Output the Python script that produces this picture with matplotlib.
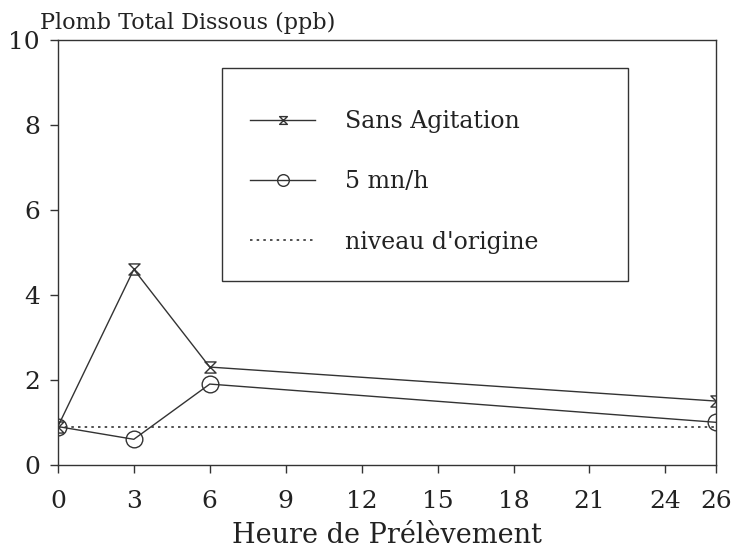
import matplotlib
matplotlib.use("Agg")
import matplotlib.pyplot as plt
from matplotlib.path import Path
from matplotlib.patches import Rectangle

hours = [0, 3, 6, 26]
sans_agitation = [0.9, 4.6, 2.3, 1.5]
agit_5mn = [0.9, 0.6, 1.9, 1.0]
origin_level = [0.9, 0.9]
origin_x = [0, 26]
xticks = [0, 3, 6, 9, 12, 15, 18, 21, 24, 26]
yticks = [0, 2, 4, 6, 8, 10]

plt.rcParams['font.family'] = ['DejaVu Serif']
col = '#333333'
tcol = '#222222'

hourglass = Path([(-1, 1), (1, 1), (-1, -1), (1, -1), (-1, 1)],
                 [Path.MOVETO, Path.LINETO, Path.LINETO, Path.LINETO, Path.CLOSEPOLY])

fig = plt.figure(figsize=(7.42, 5.54), dpi=100)
ax = fig.add_axes([0.078, 0.161, 0.887, 0.767])

l1, = ax.plot(hours, sans_agitation, color=col, lw=1.0, marker=hourglass,
              markersize=8, markerfacecolor='none', markeredgecolor=col, markeredgewidth=1.0)
l2, = ax.plot(hours, agit_5mn, color=col, lw=1.0, marker='o',
              markersize=12, markerfacecolor='none', markeredgecolor=col, markeredgewidth=1.0)
l3, = ax.plot(origin_x, origin_level, color=col, lw=1.2, linestyle=(0, (1.5, 2.5)))

ax.set_xlim(0, 26)
ax.set_ylim(0, 10)
ax.set_xticks(xticks)
ax.set_yticks(yticks)
ax.tick_params(direction='out', length=6, width=1, colors=col, labelsize=18, labelcolor=tcol,
               top=False, right=False)
ax.tick_params(axis='x', pad=12)
ax.tick_params(axis='y', pad=7)
for s in ax.spines.values():
    s.set_color(col)
    s.set_linewidth(1.0)

# legend frame
box = Rectangle((0.249, 0.433), 0.617, 0.501, transform=ax.transAxes, fill=False,
                edgecolor=col, linewidth=1.0, zorder=3)
ax.add_patch(box)
leg = ax.legend([l1, l2, l3], ['Sans Agitation', '5 mn/h', "niveau d'origine"],
                loc='upper left', bbox_to_anchor=(0.292, 0.834), fontsize=17,
                frameon=False, borderpad=0, borderaxespad=0,
                labelspacing=1.57, handlelength=2.75, handletextpad=1.25, markerscale=0.7)
for t in leg.get_texts():
    t.set_color(tcol)

fig.text(0.054, 0.947, 'Plomb Total Dissous (ppb)', fontsize=16, color=tcol, ha='left', va='baseline')
fig.text(0.522, 0.02, 'Heure de Prélèvement', fontsize=19.5, color=tcol, ha='center', va='baseline')

fig.savefig('out.png', dpi=100)
